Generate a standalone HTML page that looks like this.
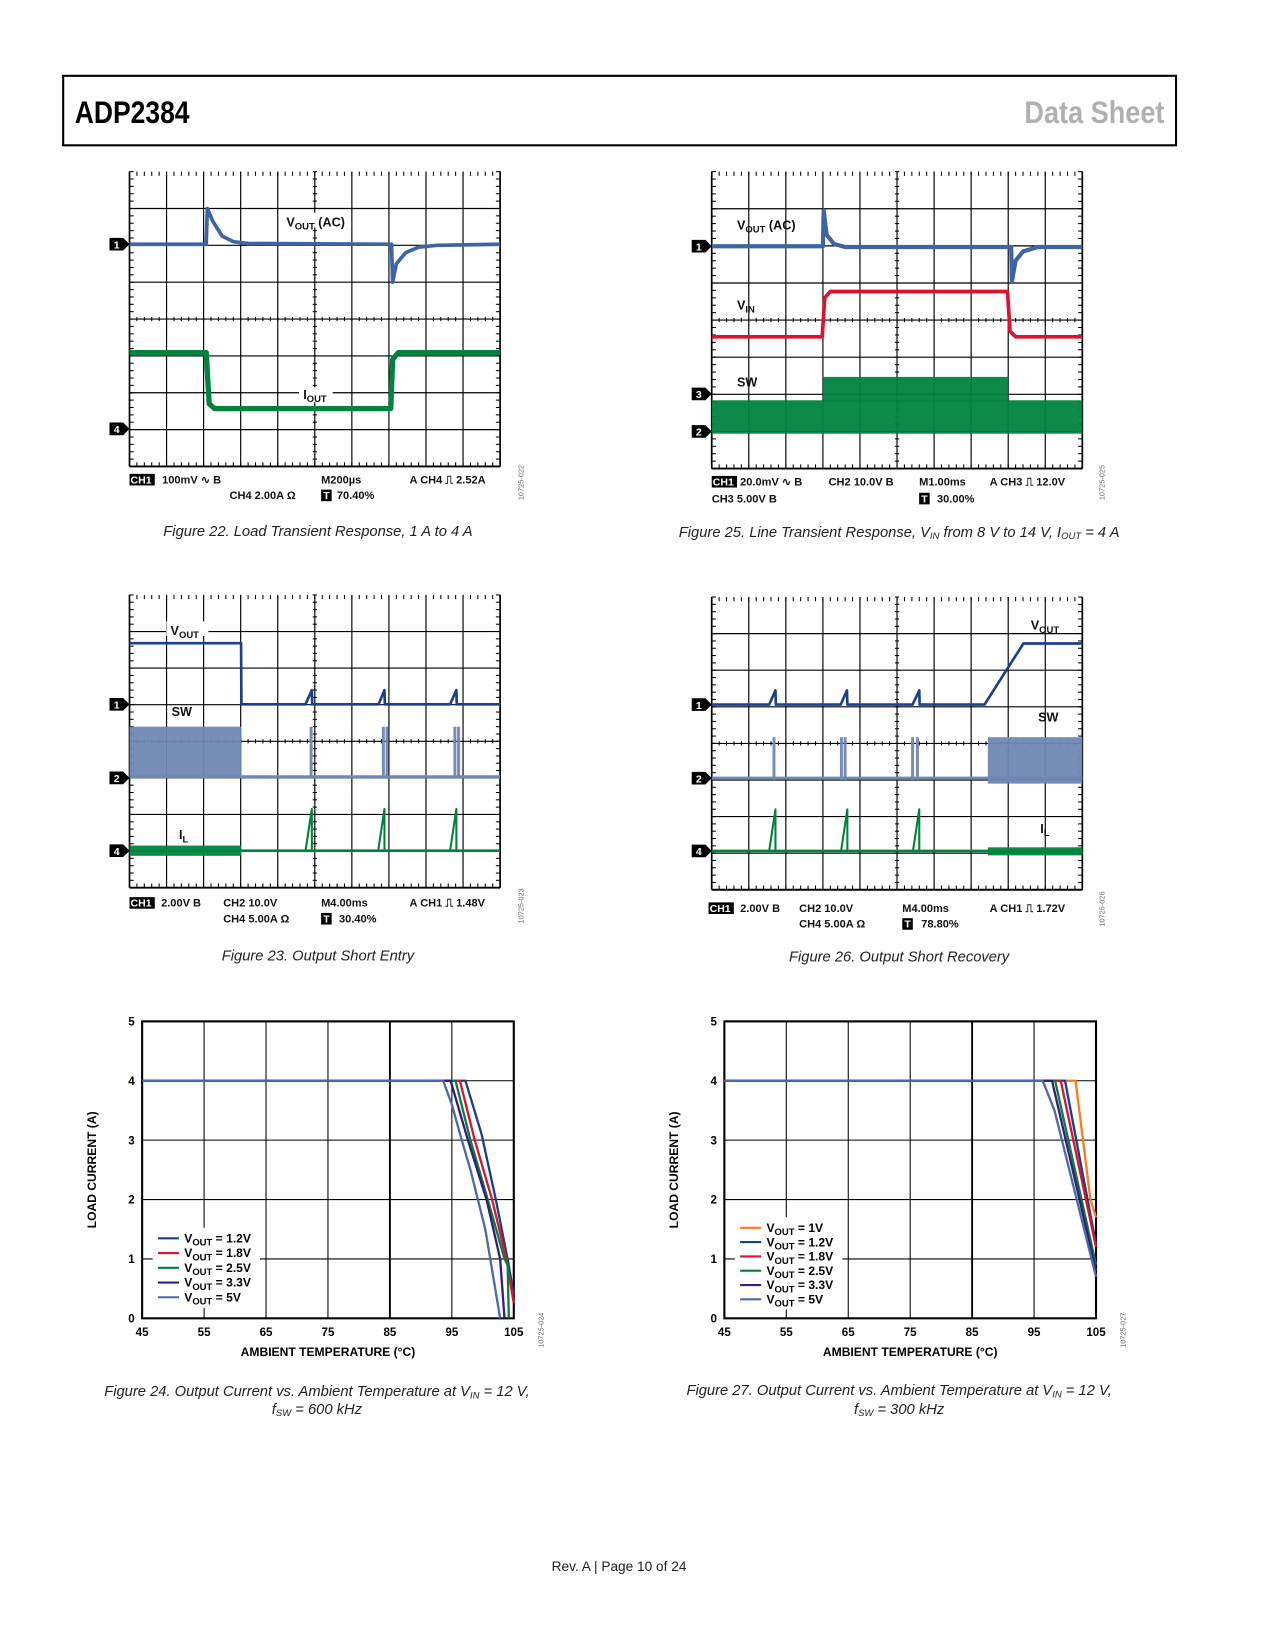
<!DOCTYPE html>
<html><head><meta charset="utf-8"><style>
html,body{margin:0;padding:0;background:#fff}
svg{display:block}
text{font-family:"Liberation Sans",sans-serif}
</style></head><body>
<svg id="pg" width="1275" height="1650" viewBox="0 0 1211 1567" preserveAspectRatio="none" xmlns="http://www.w3.org/2000/svg">
<rect width="1211" height="1567" fill="#fff"/>
<g>
<rect x="60" y="72" width="1057" height="66" fill="none" stroke="#000" stroke-width="2"/>
<text x="71" y="117" font-size="30" font-weight="bold" textLength="109" lengthAdjust="spacingAndGlyphs">ADP2384</text>
<text x="973" y="117" font-size="30" font-weight="bold" fill="#b0b0b0" textLength="133" lengthAdjust="spacingAndGlyphs">Data Sheet</text>
</g>
<g font-style="italic" font-size="14" text-anchor="middle" fill="#222">
<text x="302" y="509">Figure 22. Load Transient Response, 1 A to 4 A</text>
<text x="854" y="510">Figure 25. Line Transient Response, V<tspan font-size="9" dy="2">IN</tspan><tspan dy="-2"> from 8 V to 14 V, I</tspan><tspan font-size="9" dy="2">OUT</tspan><tspan dy="-2"> = 4 A</tspan></text>
<text x="302" y="912">Figure 23. Output Short Entry</text>
<text x="854" y="913">Figure 26. Output Short Recovery</text>
<text x="301" y="1326">Figure 24. Output Current vs. Ambient Temperature at V<tspan font-size="9" dy="2">IN</tspan><tspan dy="-2"> = 12 V,</tspan></text>
<text x="301" y="1343">f<tspan font-size="9" dy="2">SW</tspan><tspan dy="-2"> = 600 kHz</tspan></text>
<text x="854" y="1325">Figure 27. Output Current vs. Ambient Temperature at V<tspan font-size="9" dy="2">IN</tspan><tspan dy="-2"> = 12 V,</tspan></text>
<text x="854" y="1343">f<tspan font-size="9" dy="2">SW</tspan><tspan dy="-2"> = 300 kHz</tspan></text>
</g>
<text x="588" y="1492" font-size="13" text-anchor="middle" fill="#222">Rev. A | Page 10 of 24</text>
<g id="content"></g>
</svg>
<script>
const f22VoutX=[0,2.07,2.1,2.25,2.5,2.8,3.2,7.07,7.1,7.2,7.45,7.8,8.3,10];
const f22VoutY=[1.97,1.97,1.0,1.35,1.75,1.9,1.95,1.97,3.0,2.5,2.2,2.05,2.0,1.97];
const f22IoutX=[0,2.07,2.15,2.3,7.05,7.1,7.25,10];
const f22IoutY=[4.91,4.91,6.3,6.43,6.43,5.1,4.91,4.91];
const f25VoutX=[0,3.0,3.02,3.1,3.3,3.6,8.08,8.1,8.2,8.4,8.8,10];
const f25VoutY=[2.01,2.01,1.05,1.7,1.95,2.03,2.03,2.95,2.4,2.15,2.03,2.03];
const f25VinX=[0,2.98,3.05,3.2,7.98,8.05,8.2,10];
const f25VinY=[4.45,4.45,3.4,3.23,3.23,4.3,4.45,4.45];
const f23VoutX=[0,3.01,3.02,4.75,4.92,4.93,6.72,6.88,6.89,8.65,8.82,8.83,10];
const f23VoutY=[1.32,1.32,2.99,2.99,2.6,2.99,2.99,2.6,2.99,2.99,2.6,2.99,2.99];
const f23SwBurst=[4.9,6.85,6.95,8.78,8.88];
const f23IlPk=[4.92,6.88,8.82];
const f26VoutX=[0,1.55,1.72,1.73,3.48,3.65,3.66,5.42,5.6,5.61,7.36,8.41,10];
const f26VoutY=[2.94,2.94,2.55,2.94,2.94,2.55,2.94,2.94,2.55,2.94,2.94,1.27,1.27];
const f26SwBurst=[1.68,3.5,3.6,5.42,5.55];
const f26IlPk=[1.72,3.66,5.6];
const xTicks=[45,55,65,75,85,95,105];
const yTicks=[0,1,2,3,4,5];
const f24Labels=['1.2V','1.8V','2.5V','3.3V','5V'];
const f24Colors=['#1b3f87','#e0102f','#00843d','#3a1a7a','#4a6aaa'];
const f24T=[[45,97.2,99.8,102.1,104.0,105],[45,96.3,98.7,101.5,103.8,105],[45,95.6,98.0,100.8,103.5,104.0,104.2],[45,94.8,97.6,100.6,102.8,103.5],[45,93.6,95,96.6,98.0,99.2,100.4,101.2,102.8]];
const f24I=[[4,4,3.1,2,1,0.4],[4,4,3,2,1,0.25],[4,4,3,2,1,0.9,0],[4,4,3,2,1,0],[4,4,3.6,3,2.5,2,1.5,1,0]];
const f27Labels=['1V','1.2V','1.8V','2.5V','3.3V','5V'];
const f27Colors=['#ff7a1a','#1b3f87','#e0102f','#00843d','#3a1a7a','#4a6aaa'];
const f27T=[[45,101.7,104.1,105],[45,100.0,105],[45,99.3,105],[45,98.4,105],[45,97.9,105],[45,96.4,98.3,105]];
const f27I=[[4,4,2,1.7],[4,4,1.25],[4,4,1.2],[4,4,0.9],[4,4,0.8],[4,4,3.5,0.7]];

const NS='http://www.w3.org/2000/svg';
const root=document.getElementById('content');
function mk(tag,attrs,parent){const e=document.createElementNS(NS,tag);for(const k in attrs)e.setAttribute(k,attrs[k]);(parent||root).appendChild(e);return e;}
function txt(x,y,s,size,parent,extra){const e=mk('text',Object.assign({x:x,y:y,'font-size':size},extra||{}),parent);e.textContent=s;return e;}

function scope(name,x0,y0,w,h){
  const g=mk('g',{});
  
  
  const dx=w/10,dy=h/8;
  const sx=v=>x0+v*dx, sy=v=>y0+v*dy;
  for(let i=0;i<=10;i++){mk('line',{x1:sx(i),x2:sx(i),y1:y0,y2:y0+h,stroke:'#000','stroke-width':(i==0||i==10)?1.6:1.1},g);}
  for(let j=0;j<=8;j++){mk('line',{x1:x0,x2:x0+w,y1:sy(j),y2:sy(j),stroke:'#000','stroke-width':(j==8)?1.8:(j==0?0:1.1)},g);}
  for(let i=0;i<=50;i++){const x=x0+i*dx/5;
    mk('line',{x1:x,x2:x,y1:y0,y2:y0+4,stroke:'#000','stroke-width':1},g);
    mk('line',{x1:x,x2:x,y1:y0+h-4,y2:y0+h,stroke:'#000','stroke-width':1},g);
    mk('line',{x1:x,x2:x,y1:sy(4)-2,y2:sy(4)+2,stroke:'#000','stroke-width':1},g);}
  for(let j=0;j<=40;j++){const y=y0+j*dy/5;
    mk('line',{x1:x0,x2:x0+4,y1:y,y2:y,stroke:'#000','stroke-width':1},g);
    mk('line',{x1:x0+w-4,x2:x0+w,y1:y,y2:y,stroke:'#000','stroke-width':1},g);
    mk('line',{x1:sx(5)-2,x2:sx(5)+2,y1:y,y2:y,stroke:'#000','stroke-width':1},g);}
  return {g,sx,sy,x0,y0,w,h};
}
function trace(s,name,xs,ys,color,sw){
  const p=mk('polyline',{points:xs.map((v,i)=>s.sx(v)+','+s.sy(ys[i])).join(' '),fill:'none',stroke:color,'stroke-width':sw,'stroke-linejoin':'round'},s.g);
  
  
  return p;
}
function marker(s,name,n,yv){
  const y=s.sy(yv),x=s.x0;
  const p=mk('path',{d:`M${x-19} ${y-6}H${x-6}L${x} ${y}L${x-6} ${y+6}H${x-19}Z`,fill:'#000'},s.g);
  
  
  txt(x-15,y+4,n,10,s.g,{fill:'#fff','font-weight':'bold'});
}
function label(s,x,y,main,sub,name){
  const t=mk('text',{x:x,y:y,'font-size':12,'font-weight':'bold',fill:'#111'},s.g);
  
  
  t.appendChild(document.createTextNode(main));
  if(sub){const ts=mk('tspan',{'font-size':9,dy:3},t);ts.textContent=sub[0];if(sub[1]){const t2=mk('tspan',{dy:-3},t);t2.textContent=sub[1];}}
}
function ch1box(x,y,parent){mk('rect',{x:x,y:y-9,width:24,height:11,fill:'#000'},parent);txt(x+1,y,'CH1',10,parent,{fill:'#fff','font-weight':'bold'});}
function scopeText(s,items,name){
  const g=mk('g',{'font-weight':'bold',fill:'#111'},s.g);
  
  
  items.forEach(it=>{if(it[2]==='CH1')ch1box(it[0],it[1],g);else if(it[2]==='T'){mk('rect',{x:it[0],y:it[1]-9,width:10,height:11,fill:'#000'},g);txt(it[0]+2,it[1],'T',10,g,{fill:'#fff'});}else txt(it[0],it[1],it[2],10.5,g);});
}
function band(s,name,x1,x2,yt,yb,color){
  const r=mk('rect',{x:s.sx(x1),y:s.sy(yt),width:s.sx(x2)-s.sx(x1),height:s.sy(yb)-s.sy(yt),fill:color,opacity:0.95},s.g);
  
  
}
function figId(x,y,s){txt(x,y,s,7,root,{fill:'#666',transform:`rotate(-90 ${x} ${y})`});}

const BLUE='#3e64a6',NAVY='#1c3f8c',GREEN='#00843d',RED='#e3102d',SWB='#6f87b4';

let s=scope('figure-22-scope',123,163,352,280);
trace(s,'vout-ac-trace',f22VoutX,f22VoutY,BLUE,3.5);
trace(s,'iout-trace',f22IoutX,f22IoutY,GREEN,5);
marker(s,'ch1-marker',1,1.97);marker(s,'ch4-marker',4,6.98);
mk('rect',{x:270,y:202,width:62,height:14,fill:'#fff'},s.g);
label(s,272,215,'V',['OUT',' (AC)'],'vout-label');
mk('rect',{x:284,y:368,width:32,height:14,fill:'#fff'},s.g);
label(s,288,379,'I',['OUT'],'iout-label');
scopeText(s,[[123,459,'CH1'],[154,459,'100mV ∿ B'],[305,459,'M200µs'],[389,459,'A  CH4 ⎍ 2.52A'],[218,474,'CH4  2.00A Ω'],[305,474,'T'],[320,474,'70.40%']],'figure-22-settings');
figId(497,475,'10725-022');

s=scope('figure-25-scope',676,163,352,282);
band(s,'sw-band-low',0,10,6.16,7.06,GREEN);
band(s,'sw-band-high',3.0,8.0,5.53,6.2,GREEN);
trace(s,'vin-trace',f25VinX,f25VinY,RED,3.5);
trace(s,'vout-ac-trace',f25VoutX,f25VoutY,BLUE,4);
marker(s,'ch1-marker',1,2.01);marker(s,'ch3-marker',3,5.99);marker(s,'ch2-marker',2,7.0);
label(s,700,218,'V',['OUT',' (AC)'],'vout-label');
label(s,700,294,'V',['IN'],'vin-label');
label(s,700,367,'SW',null,'sw-label');
scopeText(s,[[676,461,'CH1'],[703,461,'20.0mV ∿ B'],[787,461,'CH2 10.0V B'],[873,461,'M1.00ms'],[940,461,'A  CH3 ⎍ 12.0V'],[676,477,'CH3 5.00V B'],[873,477,'T'],[890,477,'30.00%']],'figure-25-settings');
figId(1049,475,'10725-025');

s=scope('figure-23-scope',123,565,352,278);
band(s,'sw-burst',0,3.01,3.6,5.0,SWB);
f23SwBurst.forEach(v=>band(s,'sw-pulse',v-0.04,v+0.04,3.6,5.0,SWB));
trace(s,'sw-trace',[0,10],[4.97,4.97],SWB,3);
band(s,'il-noise',0,3.01,6.85,7.13,GREEN);
trace(s,'il-trace',[0,10],[6.99,6.99],GREEN,2.5);
f23IlPk.forEach(v=>trace(s,'il-pulse',[v-0.17,v,v],[6.99,5.85,6.99],GREEN,2));
trace(s,'vout-trace',f23VoutX,f23VoutY,NAVY,2.5);
marker(s,'ch1-marker',1,2.99);marker(s,'ch2-marker',2,5.0);marker(s,'ch4-marker',4,6.99);
mk('rect',{x:158,y:590,width:40,height:14,fill:'#fff'},s.g);
label(s,162,603,'V',['OUT'],'vout-label');
label(s,163,680,'SW',null,'sw-label');
label(s,170,797,'I',['L'],'il-label');
scopeText(s,[[123,861,'CH1'],[153,861,'2.00V B'],[212,861,'CH2 10.0V'],[305,861,'M4.00ms'],[389,861,'A  CH1 ⎍ 1.48V'],[212,876,'CH4 5.00A Ω'],[305,876,'T'],[322,876,'30.40%']],'figure-23-settings');
figId(497,877,'10725-023');

s=scope('figure-26-scope',676,567,352,278);
band(s,'sw-burst',7.45,10,3.83,5.1,SWB);
f26SwBurst.forEach(v=>band(s,'sw-pulse',v-0.04,v+0.04,3.83,5.0,SWB));
trace(s,'sw-trace',[0,10],[4.95,4.95],SWB,3);
band(s,'il-noise',7.45,10,6.84,7.06,GREEN);
trace(s,'il-trace',[0,10],[6.94,6.94],GREEN,2.5);
f26IlPk.forEach(v=>trace(s,'il-pulse',[v-0.17,v,v],[6.94,5.8,6.94],GREEN,2));
trace(s,'vout-trace',f26VoutX,f26VoutY,NAVY,2.5);
marker(s,'ch1-marker',1,2.94);marker(s,'ch2-marker',2,4.95);marker(s,'ch4-marker',4,6.94);
label(s,979,598,'V',['OUT'],'vout-label');
label(s,986,685,'SW',null,'sw-label');
label(s,988,791,'I',['L'],'il-label');
scopeText(s,[[673,866,'CH1'],[703,866,'2.00V B'],[759,866,'CH2 10.0V'],[857,866,'M4.00ms'],[940,866,'A  CH1 ⎍ 1.72V'],[759,881,'CH4 5.00A Ω'],[857,881,'T'],[875,881,'78.80%']],'figure-26-settings');
figId(1049,880,'10725-026');

function lineChart(name,x0,y0,x1,y1,Ts,Is,labels,colors,legX,legY,legStep,idText){
  const g=mk('g',{});
  
  
  const xs=v=>x0+(v-45)/60*(x1-x0), ys=v=>y1-v/5*(y1-y0);
  xTicks.forEach(t=>{mk('line',{x1:xs(t),x2:xs(t),y1:y0,y2:y1,stroke:'#000','stroke-width':(t==85)?1.8:1},g);
    const l=txt(xs(t),y1+17,String(t),11,g,{'text-anchor':'middle','font-weight':'bold'});
    
    });
  yTicks.forEach(t=>{mk('line',{x1:x0,x2:x1,y1:ys(t),y2:ys(t),stroke:'#000','stroke-width':1},g);
    const l=txt(x0-7,ys(t)+4,String(t),11,g,{'text-anchor':'end','font-weight':'bold'});
    
    });
  mk('rect',{x:x0,y:y0,width:x1-x0,height:y1-y0,fill:'none',stroke:'#000','stroke-width':2},g);
  const yt=txt(x0-44,(y0+y1)/2,'LOAD CURRENT (A)',11.5,g,{'text-anchor':'middle','font-weight':'bold',transform:`rotate(-90 ${x0-44} ${(y0+y1)/2})`});
  
  
  const xt=txt((x0+x1)/2,y1+36,'AMBIENT TEMPERATURE (°C)',11.5,g,{'text-anchor':'middle','font-weight':'bold'});
  
  
  mk('rect',{x:legX-5,y:legY-10,width:102,height:legStep*labels.length+6,fill:'#fff'},g);
  for(let k=0;k<Ts.length;k++){
    const p=mk('polyline',{points:Ts[k].map((t,i)=>xs(t)+','+ys(Is[k][i])).join(' '),fill:'none',stroke:colors[k],'stroke-width':2.2},g);
    
    
  }
  labels.forEach((lb,k)=>{
    const y=legY+k*legStep;
    const le=mk('g',{},g);
    
    
    mk('line',{x1:legX,x2:legX+20,y1:y,y2:y,stroke:colors[k],'stroke-width':2},le);
    const t=mk('text',{x:legX+25,y:y+4,'font-size':11.5,'font-weight':'bold'},le);
    t.appendChild(document.createTextNode('V'));
    const s1=mk('tspan',{'font-size':9,dy:3},t);s1.textContent='OUT';
    const s2=mk('tspan',{dy:-3},t);s2.textContent=' = '+lb;
  });
  figId(x1+28,y1+28,idText);
}
lineChart('figure-24-chart',135,970,488,1252,f24T,f24I,f24Labels,f24Colors,150,1176,14,'10725-024');
lineChart('figure-27-chart',688,970,1041,1252,f27T,f27I,f27Labels,f27Colors,703,1166,13.6,'10725-027');
</script>
</body></html>
